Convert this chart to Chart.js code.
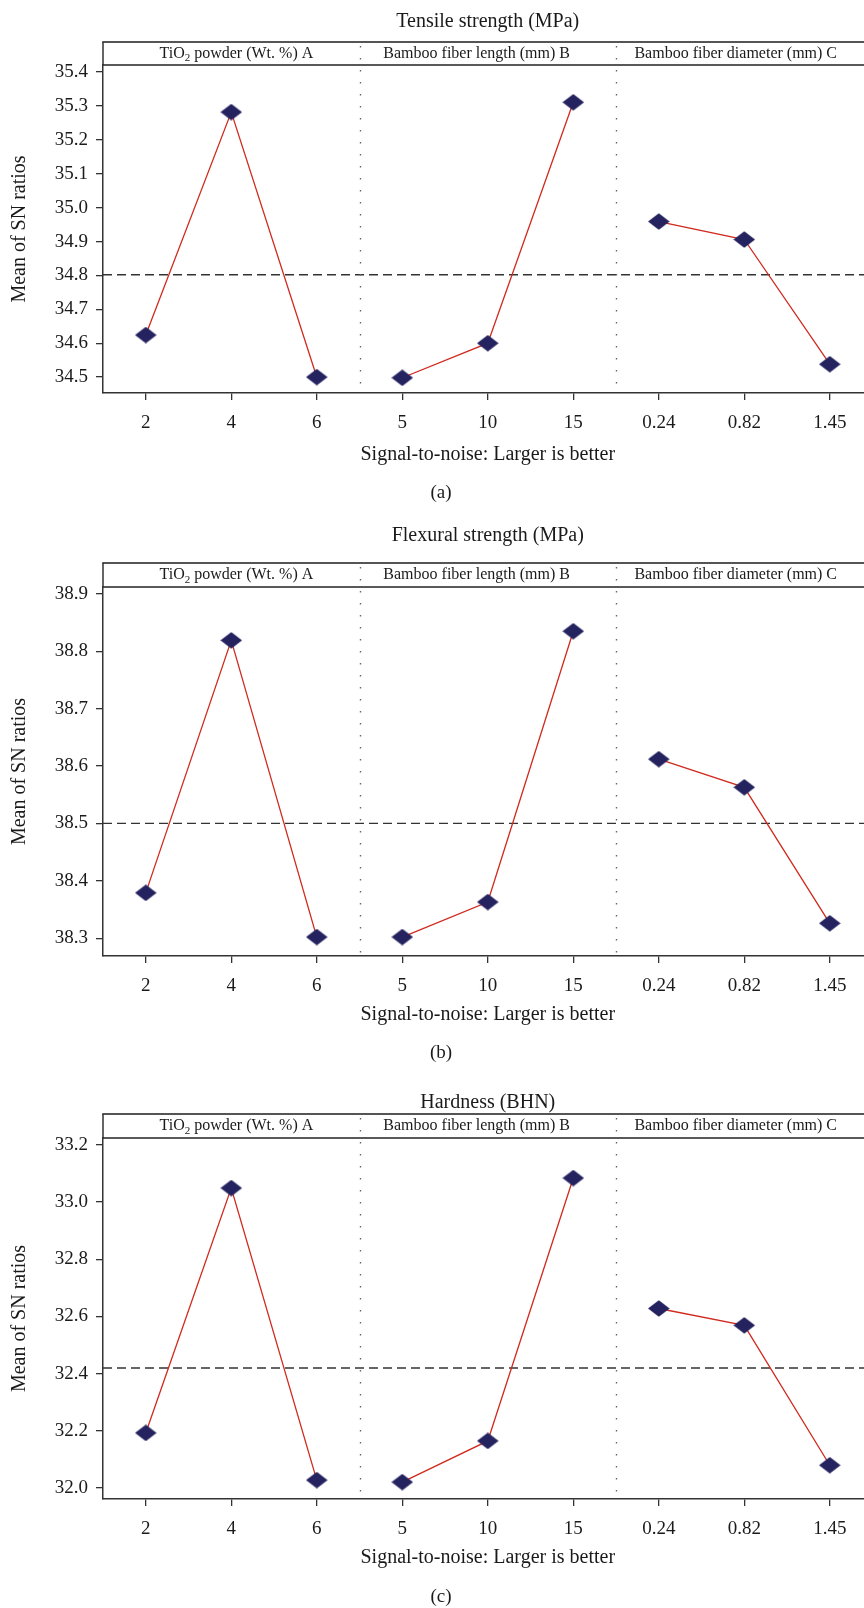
<!DOCTYPE html>
<html>
<head>
<meta charset="utf-8">
<script src="https://cdn.jsdelivr.net/npm/chart.js@4.4.0/dist/chart.umd.min.js"></script>
<style>
  html, body { margin: 0; padding: 0; background: #fff; }
  #wrap { position: relative; width: 864px; height: 1608px; overflow: hidden; }
  .panel { position: absolute; left: 0; width: 864px; }
</style>
</head>
<body>
<div id="wrap">
  <div class="panel" style="top:0;height:515px"><canvas id="chartA"></canvas></div>
  <div class="panel" style="top:515px;height:555px"><canvas id="chartB"></canvas></div>
  <div class="panel" style="top:1070px;height:538px"><canvas id="chartC"></canvas></div>
</div>
<script>
// factor levels (x tick labels)
const tioLevels = ['2', '4', '6'];
const lengthLevels = ['5', '10', '15'];
const diameterLevels = ['0.24', '0.82', '1.45'];
const xLabels = [...tioLevels, ...lengthLevels, ...diameterLevels];

const factorNames = ['TiO|2| powder (Wt. %) A', 'Bamboo fiber length (mm) B', 'Bamboo fiber diameter (mm) C'];

// (a) tensile strength, mean of SN ratios
const tensileA = [34.624, 35.282, 34.500];
const tensileB = [34.498, 34.600, 35.311];
const tensileC = [34.959, 34.906, 34.538];
const tensileMean = 34.802;
const tensileTicks = [34.5, 34.6, 34.7, 34.8, 34.9, 35.0, 35.1, 35.2, 35.3, 35.4];
const tensileRange = [34.453, 35.421];

// (b) flexural strength
const flexA = [38.379, 38.819, 38.302];
const flexB = [38.302, 38.363, 38.835];
const flexC = [38.612, 38.563, 38.326];
const flexMean = 38.500;
const flexTicks = [38.3, 38.4, 38.5, 38.6, 38.7, 38.8, 38.9];
const flexRange = [38.269, 38.912];

// (c) hardness
const hardA = [32.193, 33.049, 32.028];
const hardB = [32.021, 32.165, 33.084];
const hardC = [32.628, 32.569, 32.080];
const hardMean = 32.420;
const hardTicks = [32.0, 32.2, 32.4, 32.6, 32.8, 33.0, 33.2];
const hardRange = [31.962, 33.224];

const FONT = "'Liberation Serif', 'Times New Roman', serif";
const INK = '#1a1a1a';

// flattened diamond marker
const diamond = document.createElement('canvas');
diamond.width = 22; diamond.height = 17;
(function () {
    const c = diamond.getContext('2d');
    c.fillStyle = '#25235f';
    c.beginPath();
    c.moveTo(11, 0.3); c.lineTo(21.8, 8.5); c.lineTo(11, 16.7); c.lineTo(0.2, 8.5);
    c.closePath(); c.fill();
})();

const panelDecor = {
    id: 'panelDecor',
    beforeDatasetsDraw(chart, args, o) {
        const { ctx, chartArea: ca, scales: { x, y } } = chart;
        ctx.save();
        // grand mean
        const my = y.getPixelForValue(o.mean);
        ctx.strokeStyle = '#333'; ctx.lineWidth = 1.3; ctx.setLineDash([9, 5]);
        ctx.beginPath(); ctx.moveTo(ca.left, my); ctx.lineTo(ca.right, my); ctx.stroke();
        // factor separators
        ctx.strokeStyle = '#666'; ctx.lineWidth = 1.4; ctx.setLineDash([1.4, 10.6]);
        [2.5, 5.5].forEach(v => {
            const px = Math.round(x.getPixelForValue(v)) + 0.5;
            ctx.beginPath(); ctx.moveTo(px, o.headerTop + 4); ctx.lineTo(px, ca.bottom); ctx.stroke();
        });
        ctx.restore();
    },
    afterDraw(chart, args, o) {
        const { ctx, chartArea: ca, scales: { x } } = chart;
        ctx.save();
        // header strip
        ctx.strokeStyle = '#555'; ctx.lineWidth = 2;
        ctx.beginPath(); ctx.moveTo(ca.left - 0.75, o.headerTop); ctx.lineTo(ca.right, o.headerTop); ctx.stroke();
        ctx.strokeStyle = '#222'; ctx.lineWidth = 1.5;
        ctx.beginPath(); ctx.moveTo(ca.left, ca.top); ctx.lineTo(ca.right, ca.top); ctx.stroke();
        ctx.strokeStyle = '#333';
        ctx.beginPath(); ctx.moveTo(ca.left, o.headerTop); ctx.lineTo(ca.left, ca.top); ctx.stroke();

        ctx.fillStyle = INK;
        ctx.textBaseline = 'middle';
        const hy = (o.headerTop + ca.top) / 2;
        const headerPos = [1.06, 3.87, 6.9];
        factorNames.forEach((name, i) => {
            const parts = name.split('|');
            const big = '16px ' + FONT, small = '11px ' + FONT;
            ctx.font = big;
            let w = ctx.measureText(parts[0]).width;
            let wSub = 0;
            if (parts.length > 1) {
                w += ctx.measureText(parts[2]).width;
                ctx.font = small; wSub = ctx.measureText(parts[1]).width; w += wSub;
            }
            let cx = x.getPixelForValue(headerPos[i]) - w / 2;
            ctx.textAlign = 'left';
            ctx.font = big;
            ctx.fillText(parts[0], cx, hy);
            cx += ctx.measureText(parts[0]).width;
            if (parts.length > 1) {
                ctx.font = small; ctx.fillText(parts[1], cx, hy + 5); cx += wSub;
                ctx.font = big; ctx.fillText(parts[2], cx, hy);
            }
        });

        ctx.textAlign = 'center';
        const mid = x.getPixelForValue(4);
        ctx.font = '20px ' + FONT;
        ctx.fillText(o.title, mid, o.titleY);
        ctx.fillText('Signal-to-noise: Larger is better', mid, o.xTitleY);
        ctx.font = '19px ' + FONT;
        ctx.fillText(o.caption, 441, o.captionY);
        ctx.restore();
    }
};

function buildChart(id, p) {
    const datasets = [p.a, p.b, p.c].map((vals, g) => ({
        data: vals.map((v, j) => ({ x: g * 3 + j, y: v })),
        borderColor: '#d02a1e',
        borderWidth: 1.3,
        pointStyle: diamond,
        pointRadius: 10,
        pointHoverRadius: 10,
        tension: 0,
        clip: false
    }));
    return new Chart(document.getElementById(id), {
        type: 'line',
        data: { datasets },
        options: {
            responsive: true,
            maintainAspectRatio: false,
            animation: false,
            events: [],
            layout: { autoPadding: false, padding: { top: p.areaTop, left: 0, right: 0, bottom: 0 } },
            plugins: {
                legend: { display: false },
                tooltip: { enabled: false },
                panelDecor: {
                    mean: p.mean, headerTop: p.headerTop, title: p.title, titleY: p.titleY,
                    xTitleY: p.xTitleY, caption: p.caption, captionY: p.captionY
                }
            },
            scales: {
                x: {
                    type: 'linear', min: -0.5, max: 8.4,
                    afterFit: s => {
                        s.height = p.height - p.areaBottom;
                        s.paddingLeft = 0; s.paddingRight = 0;
                    },
                    afterBuildTicks: s => { s.ticks = xLabels.map((_, i) => ({ value: i })); },
                    ticks: {
                        callback: v => xLabels[v],
                        font: { family: FONT, size: 19 }, color: INK,
                        padding: 12, maxRotation: 0, autoSkip: false
                    },
                    grid: { drawOnChartArea: false, drawTicks: true, tickLength: 7, color: '#333', lineWidth: 1.3 },
                    border: { display: true, color: '#333', width: 1.5 }
                },
                y: {
                    type: 'linear', min: p.range[0], max: p.range[1],
                    afterFit: s => {
                        s.width = 103;
                        s.paddingTop = 0; s.paddingBottom = 0;
                    },
                    afterBuildTicks: s => { s.ticks = p.ticks.map(v => ({ value: v })); },
                    ticks: {
                        callback: v => v.toFixed(1),
                        font: { family: FONT, size: 19 }, color: INK, padding: 8
                    },
                    grid: { drawOnChartArea: false, drawTicks: true, tickLength: 7, color: '#333', lineWidth: 1.3 },
                    border: { display: true, color: '#333', width: 1.5 },
                    title: {
                        display: true, text: 'Mean of SN ratios',
                        font: { family: FONT, size: 20 }, color: INK, padding: { top: 8, bottom: 0 }
                    }
                }
            }
        },
        plugins: [panelDecor]
    });
}

buildChart('chartA', {
    a: tensileA, b: tensileB, c: tensileC, mean: tensileMean, ticks: tensileTicks, range: tensileRange,
    height: 515, areaTop: 65, areaBottom: 393, headerTop: 42,
    title: 'Tensile strength (MPa)', titleY: 22, xTitleY: 455, caption: '(a)', captionY: 493
});
buildChart('chartB', {
    a: flexA, b: flexB, c: flexC, mean: flexMean, ticks: flexTicks, range: flexRange,
    height: 555, areaTop: 72, areaBottom: 441, headerTop: 48,
    title: 'Flexural strength (MPa)', titleY: 21, xTitleY: 500, caption: '(b)', captionY: 538
});
buildChart('chartC', {
    a: hardA, b: hardB, c: hardC, mean: hardMean, ticks: hardTicks, range: hardRange,
    height: 538, areaTop: 68, areaBottom: 429, headerTop: 44,
    title: 'Hardness (BHN)', titleY: 33, xTitleY: 488, caption: '(c)', captionY: 527
});
</script>
</body>
</html>
